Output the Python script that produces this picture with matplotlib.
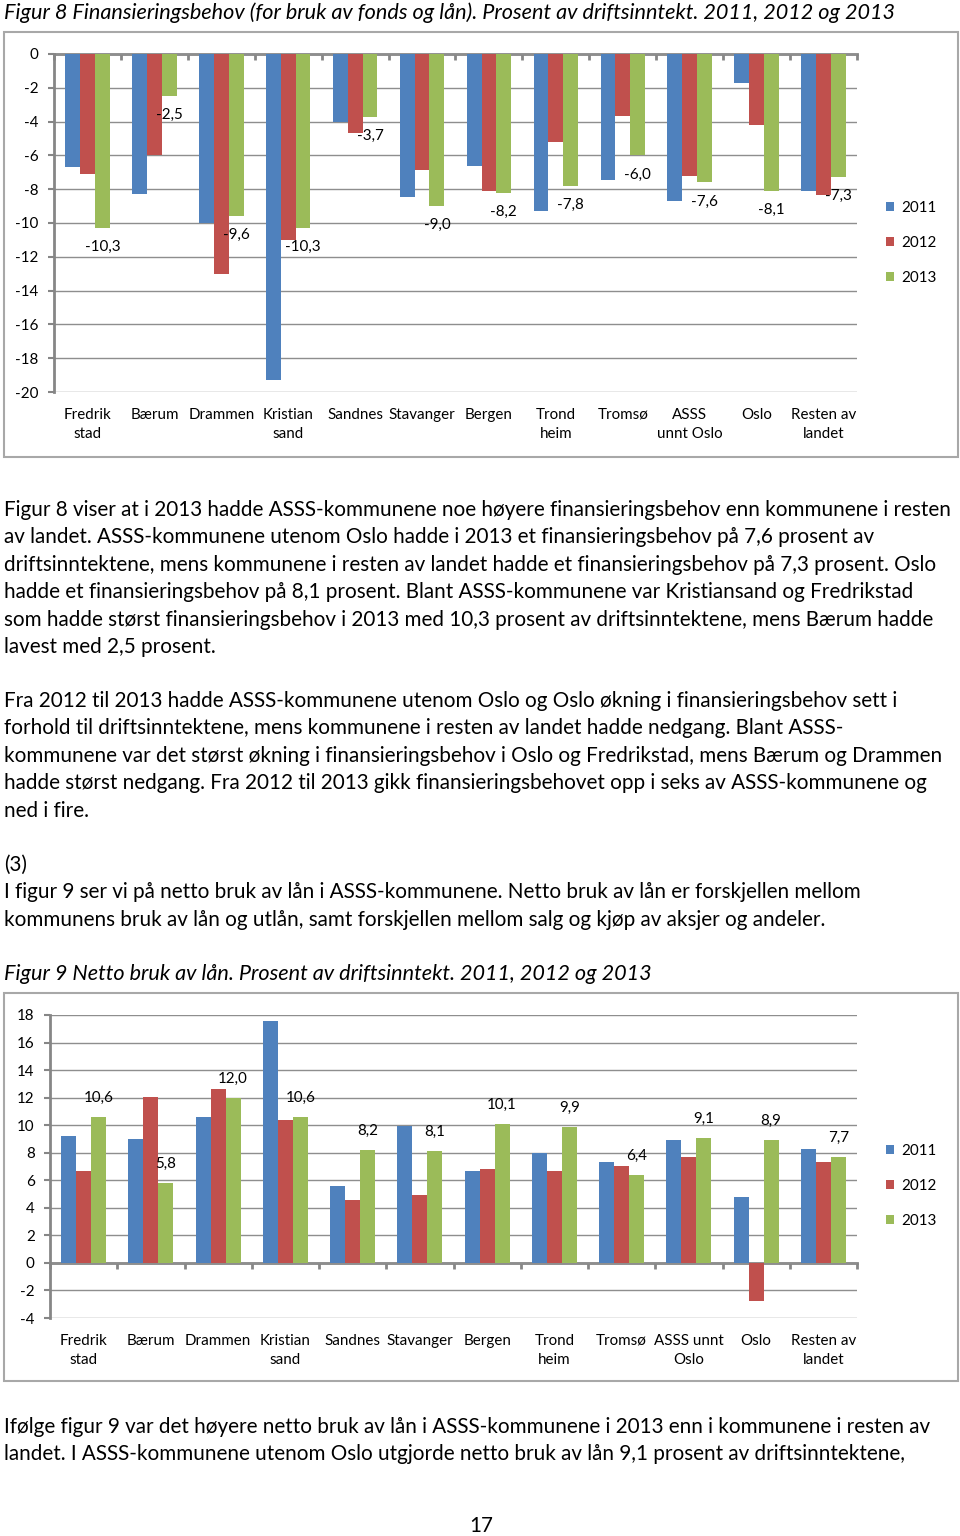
import matplotlib
matplotlib.use("Agg")
import matplotlib.pyplot as plt
import numpy as np
from matplotlib.patches import Rectangle

W, H = 960, 1536

# --- data -------------------------------------------------------------
years = ["2011", "2012", "2013"]

cats_fig8 = ["Fredrik\nstad", "Bærum", "Drammen", "Kristian\nsand", "Sandnes",
             "Stavanger", "Bergen", "Trond\nheim", "Tromsø", "ASSS\nunnt Oslo",
             "Oslo", "Resten av\nlandet"]
cats_fig9 = ["Fredrik\nstad", "Bærum", "Drammen", "Kristian\nsand", "Sandnes",
             "Stavanger", "Bergen", "Trond\nheim", "Tromsø", "ASSS unnt\nOslo",
             "Oslo", "Resten av\nlandet"]

# Figur 8: finansieringsbehov, prosent av driftsinntekt
fin_2011 = [-6.7, -8.3, -10.0, -19.3, -4.0, -8.45, -6.6, -9.3, -7.45, -8.7, -1.7, -8.1]
fin_2012 = [-7.1, -6.0, -13.0, -11.0, -4.7, -6.85, -8.1, -5.2, -3.65, -7.2, -4.2, -8.35]
fin_2013 = [-10.3, -2.5, -9.6, -10.3, -3.7, -9.0, -8.2, -7.8, -6.0, -7.6, -8.1, -7.3]

# Figur 9: netto bruk av lån, prosent av driftsinntekt
lan_2011 = [9.2, 9.0, 10.6, 17.55, 5.6, 9.95, 6.7, 8.0, 7.3, 8.9, 4.8, 8.25]
lan_2012 = [6.7, 12.05, 12.6, 10.35, 4.6, 4.95, 6.8, 6.65, 7.05, 7.7, -2.8, 7.35]
lan_2013 = [10.6, 5.8, 12.0, 10.6, 8.2, 8.1, 10.1, 9.9, 6.4, 9.1, 8.9, 7.7]

# --- page text ----------------------------------------------------------
title8 = ("Figur 8 Finansieringsbehov (for bruk av fonds og lån). Prosent av "
          "driftsinntekt. 2011, 2012 og 2013")
title9 = "Figur 9 Netto bruk av lån. Prosent av driftsinntekt. 2011, 2012 og 2013"

para1 = [
    "Figur 8 viser at i 2013 hadde ASSS-kommunene noe høyere finansieringsbehov enn kommunene i resten",
    "av landet. ASSS-kommunene utenom Oslo hadde i 2013 et finansieringsbehov på 7,6 prosent av",
    "driftsinntektene, mens kommunene i resten av landet hadde et finansieringsbehov på 7,3 prosent. Oslo",
    "hadde et finansieringsbehov på 8,1 prosent. Blant ASSS-kommunene var Kristiansand og Fredrikstad",
    "som hadde størst finansieringsbehov i 2013 med 10,3 prosent av driftsinntektene, mens Bærum hadde",
    "lavest med 2,5 prosent.",
]
para2 = [
    "Fra 2012 til 2013 hadde ASSS-kommunene utenom Oslo og Oslo økning i finansieringsbehov sett i",
    "forhold til driftsinntektene, mens kommunene i resten av landet hadde nedgang. Blant ASSS-",
    "kommunene var det størst økning i finansieringsbehov i Oslo og Fredrikstad, mens Bærum og Drammen",
    "hadde størst nedgang. Fra 2012 til 2013 gikk finansieringsbehovet opp i seks av ASSS-kommunene og",
    "ned i fire.",
]
para3 = [
    "(3)",
    "I figur 9 ser vi på netto bruk av lån i ASSS-kommunene. Netto bruk av lån er forskjellen mellom",
    "kommunens bruk av lån og utlån, samt forskjellen mellom salg og kjøp av aksjer og andeler.",
]
para4 = [
    "Ifølge figur 9 var det høyere netto bruk av lån i ASSS-kommunene i 2013 enn i kommunene i resten av",
    "landet. I ASSS-kommunene utenom Oslo utgjorde netto bruk av lån 9,1 prosent av driftsinntektene,",
]

COLORS = ["#4F81BD", "#C0504D", "#9BBB59"]
AXIS_GRAY = "#868686"
GRID_GRAY = "#8E8E8E"
BOX_GRAY = "#A8A8A8"

plt.rcParams["font.family"] = ["Lato", "DejaVu Sans"]
plt.rcParams["axes.unicode_minus"] = False


def fx(x):
    return x / W


def fy(y):
    return 1 - y / H


def comma(v):
    return f"{v:.1f}".replace(".", ",")


def fit_size(fig, text, target_px, base=12.0, **kw):
    """Font size that makes `text` about target_px wide."""
    t = fig.text(0, 0, text, fontsize=base, **kw)
    w = t.get_window_extent(renderer=fig.canvas.get_renderer()).width
    t.remove()
    return base * target_px / w


def draw_chart(fig, box, area, cats, series, ylim, fs, leg_y, label_off):
    x0, y0, x1, y1 = box
    fig.patches.append(Rectangle((fx(x0), fy(y1)), fx(x1 - x0), (y1 - y0) / H,
                                 transform=fig.transFigure, fill=False,
                                 edgecolor=BOX_GRAY, lw=1.5))
    l, t, r, b = area
    ax = fig.add_axes([fx(l), fy(b), fx(r - l), (b - t) / H])

    x = np.arange(len(cats))
    bw = 0.222
    bars = []
    for i, (vals, col) in enumerate(zip(series, COLORS)):
        bars.append(ax.bar(x + (i - 1) * bw, vals, bw, color=col, zorder=2))

    # data labels on the 2013 series only
    for xi, v in zip(x + bw, series[2]):
        up = v >= 0
        ax.annotate(comma(v), (xi, v), xytext=(0, label_off if up else -label_off),
                    textcoords="offset pixels", ha="center",
                    va="bottom" if up else "top", fontsize=fs)

    ax.set_xlim(-0.5, len(cats) - 0.5)
    ax.set_ylim(*ylim)
    ax.set_yticks(np.arange(ylim[0], ylim[1] + 1, 2))
    ax.yaxis.grid(True, color=GRID_GRAY, lw=1)
    ax.set_axisbelow(True)
    for s in ("top", "right", "bottom"):
        ax.spines[s].set_visible(False)
    ax.spines["left"].set_color(AXIS_GRAY)
    ax.spines["left"].set_linewidth(2)
    ax.tick_params(axis="y", length=4, width=1.5, color=AXIS_GRAY, pad=7,
                   labelsize=fs)
    ax.set_xticks(x)
    ax.set_xticklabels(cats, linespacing=1.45)
    ax.tick_params(axis="x", length=0, pad=11.5, labelsize=fs)

    # category axis on the zero line with ticks between groups
    zfrac = (0 - ylim[0]) / (ylim[1] - ylim[0])
    sec = ax.secondary_xaxis(zfrac)
    sec.set_xticks(np.arange(-0.5, len(cats)), labels=[])
    sec.tick_params(length=4, width=2, color=AXIS_GRAY,
                    direction="in" if zfrac > 0.5 else "out")
    for sp in sec.spines.values():
        sp.set_color(AXIS_GRAY)
        sp.set_linewidth(2)

    fig.legend([b_[0] for b_ in bars], years, loc="center left",
               bbox_to_anchor=(fx(886), fy(leg_y)), frameon=False, fontsize=fs,
               handlelength=0.55, handleheight=0.55, handletextpad=0.45,
               labelspacing=1.4, borderaxespad=0, borderpad=0)
    return ax


fig = plt.figure(figsize=(W / 100, H / 100), dpi=100)
fig.patch.set_facecolor("white")

body_fs = fit_size(fig, para1[0], 945)
title_fs = fit_size(fig, title8, 891, style="italic")
chart_fs = fit_size(fig, "Stavanger", 66)

fig.text(fx(4), fy(19), title8, fontsize=title_fs, style="italic", va="baseline")
fig.text(fx(4), fy(980), title9, fontsize=title_fs, style="italic", va="baseline")


def put_lines(lines, base_y, step=27.4):
    for k, line in enumerate(lines):
        fig.text(fx(4), fy(base_y + k * step), line, fontsize=body_fs, va="baseline")


put_lines(para1, 516)
put_lines(para2, 707)
put_lines(para3, 871)
put_lines(para4, 1433)
fig.text(fx(481), fy(1532), "17", fontsize=body_fs, ha="center", va="baseline")

draw_chart(fig, (4, 32, 958, 457), (54, 54, 857, 392), cats_fig8,
           [fin_2011, fin_2012, fin_2013], (-20, 0), chart_fs, 243, 12)
draw_chart(fig, (4, 993, 958, 1381), (50, 1015, 857, 1318), cats_fig9,
           [lan_2011, lan_2012, lan_2013], (-4, 18), chart_fs, 1186, 12)

fig.savefig("out.png", dpi=100, facecolor="white")
